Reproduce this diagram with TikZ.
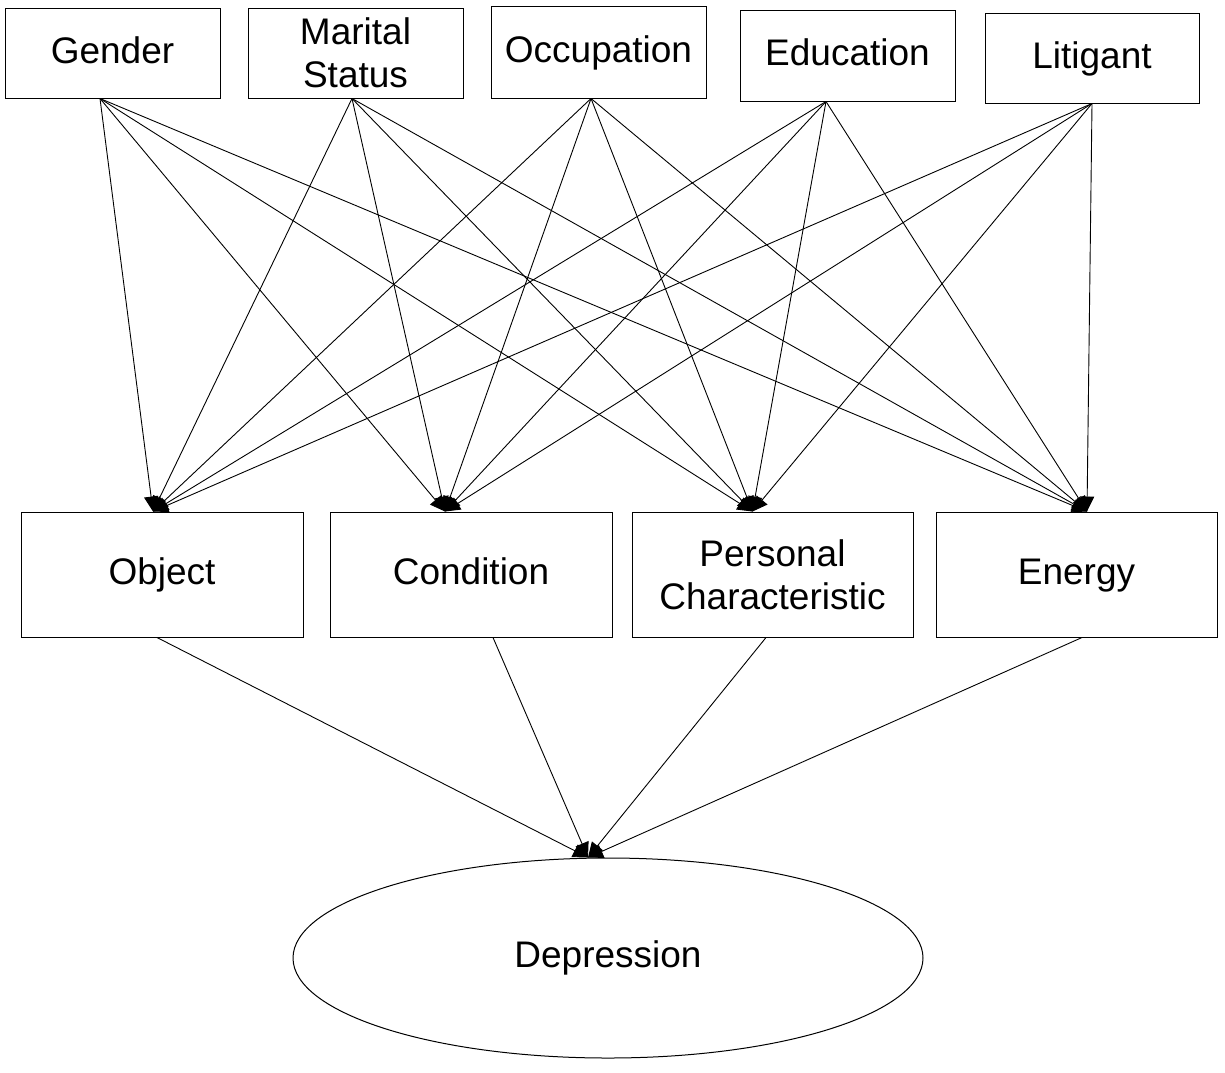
\documentclass[tikz,border=0pt]{standalone}
\usepackage{fontspec}
\setmainfont{Liberation Sans}
\usetikzlibrary{arrows.meta,shapes.geometric}

\begin{document}
\begin{tikzpicture}[x=1pt, y=-1pt, line width=1pt,
  box/.style={draw, rectangle, inner sep=0pt, align=center,
    font=\fontsize{37}{43}\selectfont},
  oneline/.style={text height=26pt, text depth=6pt},
  link/.style={-{Triangle[length=15pt, width=14pt]}, line width=0.9pt}]
  \useasboundingbox (0,0) rectangle (1225,1072);
  % top row
  \node[box, oneline, minimum width=215pt, minimum height=90pt] (gender) at (112.5,53) {Gender};
  \node[box, minimum width=215pt, minimum height=90pt] (marital) at (355.5,53) {Marital\\Status};
  \node[box, oneline, minimum width=215pt, minimum height=92pt] (occup) at (598.5,52) {Occupation};
  \node[box, oneline, minimum width=215pt, minimum height=91pt] (educ) at (847.5,55.5) {Education};
  \node[box, oneline, minimum width=214pt, minimum height=90pt] (litig) at (1092,58) {Litigant};
  % middle row
  \node[box, oneline, minimum width=282pt, minimum height=125pt] (object) at (162,574.5) {Object};
  \node[box, oneline, minimum width=282pt, minimum height=125pt] (cond) at (471,574.5) {Condition};
  \node[box, minimum width=281pt, minimum height=125pt] (person) at (772.5,574.5) {Personal\\Characteristic};
  \node[box, oneline, minimum width=281pt, minimum height=125pt] (energy) at (1076.5,574.5) {Energy};
  % outcome
  \node[draw, ellipse, inner sep=0pt, minimum width=630pt, minimum height=200pt,
    font=\fontsize{37}{43}\selectfont] (depr) at (608,958) {Depression};
  % ports
  \coordinate (gender-o) at ([xshift=-12.5]gender.south);
  \coordinate (marital-o) at ([xshift=-3.5]marital.south);
  \coordinate (occup-o) at ([xshift=-7.5]occup.south);
  \coordinate (educ-o) at ([xshift=-21.5]educ.south);
  \coordinate (litig-o) at (litig.south);
  \coordinate (object-i) at ([xshift=-9]object.north);
  \coordinate (cond-i) at ([xshift=-26]cond.north);
  \coordinate (person-i) at ([xshift=-20]person.north);
  \coordinate (energy-i) at ([xshift=10.5]energy.north);
  \coordinate (depr-i) at ([xshift=-20]depr.north);
  % demographics -> factors
  \draw[link] (gender-o) -- (object-i);
  \draw[link] (gender-o) -- (cond-i);
  \draw[link] (gender-o) -- (person-i);
  \draw[link] (gender-o) -- (energy-i);
  \draw[link] (marital-o) -- (object-i);
  \draw[link] (marital-o) -- (cond-i);
  \draw[link] (marital-o) -- (person-i);
  \draw[link] (marital-o) -- (energy-i);
  \draw[link] (occup-o) -- (object-i);
  \draw[link] (occup-o) -- (cond-i);
  \draw[link] (occup-o) -- (person-i);
  \draw[link] (occup-o) -- (energy-i);
  \draw[link] (educ-o) -- (object-i);
  \draw[link] (educ-o) -- (cond-i);
  \draw[link] (educ-o) -- (person-i);
  \draw[link] (educ-o) -- (energy-i);
  \draw[link] (litig-o) -- (object-i);
  \draw[link] (litig-o) -- (cond-i);
  \draw[link] (litig-o) -- (person-i);
  \draw[link] (litig-o) -- (energy-i);
  % factors -> depression
  \draw[link] ([xshift=-5]object.south) -- (depr-i);
  \draw[link] ([xshift=22]cond.south) -- (depr-i);
  \draw[link] ([xshift=-6.5]person.south) -- (depr-i);
  \draw[link] ([xshift=5.5]energy.south) -- (depr-i);
\end{tikzpicture}
\end{document}
